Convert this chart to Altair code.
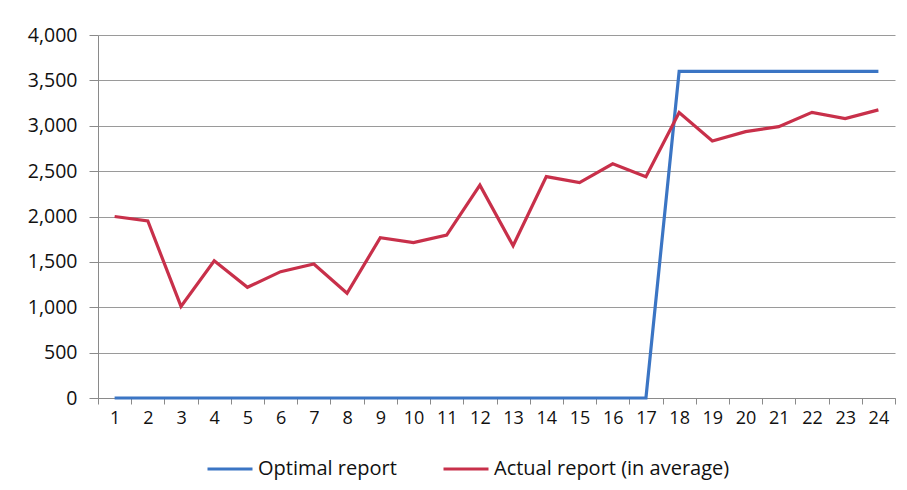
import altair as alt
import pandas as pd

periods = list(range(1, 25))
optimal = [0] * 17 + [3600] * 7
actual = [2000, 1950, 1010, 1513, 1220, 1392, 1477, 1154, 1767, 1712, 1795, 2345,
          1678, 2440, 2373, 2580, 2438, 3145, 2832, 2935, 2990, 3148, 3080, 3175]
series_names = ["Optimal report", "Actual  report (in average)"]
series_colors = ["#3B75C4", "#C8304A"]

rows = []
for p, v in zip(periods, optimal):
    rows.append({"period": str(p), "value": v, "series": series_names[0]})
for p, v in zip(periods, actual):
    rows.append({"period": str(p), "value": v, "series": series_names[1]})
df = pd.DataFrame(rows)

FONT = "Open Sans"

chart = alt.Chart(df).mark_line(strokeWidth=3.2).encode(
    x=alt.X("period:O", sort=[str(p) for p in periods],
            scale=alt.Scale(paddingInner=0, paddingOuter=0),
            axis=alt.Axis(title=None, labelAngle=0, tickBand="extent",
                          tickSize=6, tickColor="#8A8A8A", domainColor="#8A8A8A",
                          labelFont=FONT, labelFontSize=18, labelColor="#111111",
                          labelPadding=5, grid=False)),
    y=alt.Y("value:Q", scale=alt.Scale(domain=[0, 4000]),
            axis=alt.Axis(title=None, values=list(range(0, 4001, 500)), format=",.0f",
                          tickSize=9, tickColor="#8A8A8A", domainColor="#8A8A8A",
                          gridColor="#9A9A9A", gridWidth=1,
                          labelFont=FONT, labelFontSize=19.5, labelColor="#111111",
                          labelPadding=12)),
    color=alt.Color("series:N", sort=series_names,
                    scale=alt.Scale(domain=series_names, range=series_colors),
                    legend=alt.Legend(title=None, orient="none", direction="horizontal",
                                      legendX=108, legendY=410,
                                      symbolType="stroke", symbolSize=2025,
                                      symbolStrokeWidth=3, labelOffset=4,
                                      columnPadding=40, labelLimit=400,
                                      labelFont=FONT, labelFontSize=20,
                                      labelColor="#111111")),
).properties(
    width=797, height=363,
    autosize=alt.AutoSizeParams(type="none"),
    padding={"left": 90, "top": 27, "right": 4, "bottom": 84},
).configure_view(stroke=None)

chart.save("out.html", embed_options={"renderer": "svg", "actions": False})
